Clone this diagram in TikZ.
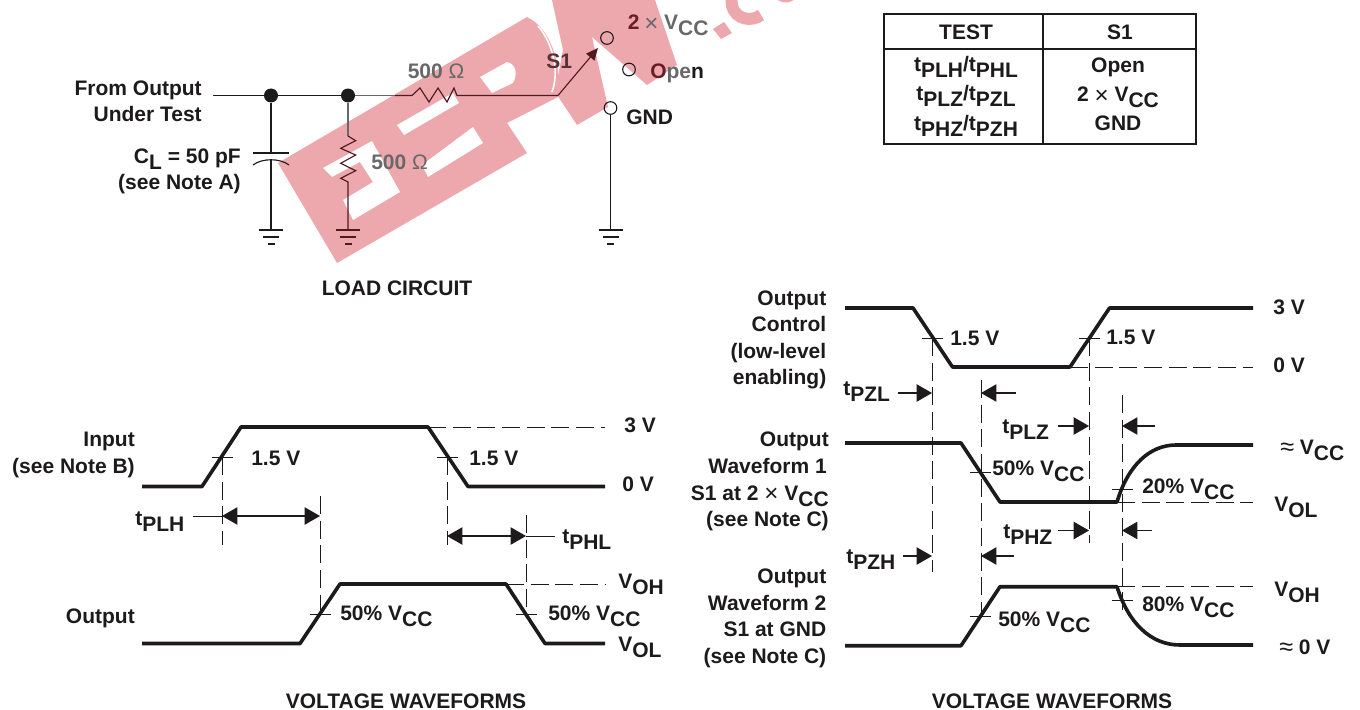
\documentclass[tikz,border=0pt]{standalone}
\usepackage{fontspec}
\setmainfont{Liberation Sans}
\usetikzlibrary{arrows.meta}
\definecolor{ink}{HTML}{1C1A1B}
\definecolor{wmark}{HTML}{EDA8AD}
\definecolor{maroon}{HTML}{4E1A20}
\definecolor{dmar}{HTML}{6B1D26}
\definecolor{grayt}{HTML}{686868}
\newcommand{\sbs}[1]{\raisebox{-4.5pt}{#1}}
\newcommand{\lite}[1]{{\mdseries #1}}
\newcommand{\tms}{{\mdseries\raisebox{-1pt}{\scalebox{1.15}{×}}}}
\newcommand{\apx}{{\mdseries\raisebox{-1pt}{\scalebox{1.2}{≈}}}}
\newcommand{\vcc}{V\sbs{CC}}
\newcommand{\tsub}[1]{t\sbs{#1}}
\tikzset{
  lab/.style={font=\fontsize{15.75}{18}\selectfont\bfseries,text=ink,inner sep=0pt,anchor=base west},
  labr/.style={lab,anchor=base east},
  labc/.style={lab,anchor=base},
  wire/.style={draw=ink,line width=.85pt},
  wave/.style={draw=ink,line width=2.7pt,line join=round},
  thinw/.style={draw=ink,line width=.75pt},
  dash line/.style={draw=ink,line width=.7pt,dash pattern=on 13.5pt off 5pt},
  tickm/.style={draw=ink,line width=.7pt},
  head/.style={draw=ink,line width=.8pt,-{Triangle[length=11.5pt,width=13pt,fill=ink]}},
  heads/.style={draw=ink,line width=.8pt,{Triangle[length=11.5pt,width=13pt,fill=ink]}-{Triangle[length=11.5pt,width=13pt,fill=ink]}},
  dot/.style={circle,fill=ink,inner sep=0pt,minimum size=10.5pt},
  term/.style={circle,draw=ink,fill=none,line width=.8pt,inner sep=0pt,minimum size=9.5pt},
  wm/.style={fill=wmark,draw=none},
  wh/.style={fill=white,draw=none},
  tb/.style={draw=ink,line width=1.4pt}
}
\begin{document}
\begin{tikzpicture}[x=.75pt,y=-.75pt]
\useasboundingbox (0,0) rectangle (1360,710);
% watermark
\begin{scope}
\clip (0,0) rectangle (1360,710);
\fill[wm] (278,163) -- (527,17) .. controls (550,28) and (562,62) .. (558,97) -- (507,123) -- (527,153) -- (337,263) -- cycle;
\fill[wh] (397,125) -- (453,93) -- (459,103) -- (404,135) -- cycle;
\fill[wh] (422,165) -- (473,127) -- (483,143) -- (428,177) -- cycle;
\fill[wh] (480,77) -- (507,62) .. controls (516,64) and (518,74) .. (513,83) -- (492,93) -- cycle;
\fill[wh] (323,168) -- (372,141) -- (400,192) -- (353,220) -- (343,200) -- (373,182) -- (360,162) -- (332,177) -- cycle;
\fill[wm] (552,0) -- (655,0) -- (677,65) -- (647,85) -- (592,37) -- (608,107) -- (577,125) -- (555,92) -- (563,50) -- cycle;
\draw[white,line width=1.2pt] (538,26) .. controls (552,42) and (560,70) .. (552,92);
\fill[wm] (713,29) -- (724,22) -- (732,33) -- (721,39) -- cycle;
\draw[wmark,line width=9pt] (761,15) .. controls (752,22) and (736,20) .. (732,6) -- (731,-6);
\fill[wmark] (775,-2) .. controls (782,4) and (790,4) .. (796,-2) -- cycle;
\end{scope}
% load circuit coordinates
\coordinate (in) at (213,95.5);
\node[dot] (d1) at (271,95.5) {};
\node[dot] (d2) at (348,95.5) {};
\coordinate (r1a) at (412,95.5);
\coordinate (r1b) at (457,95.5);
\coordinate (knee) at (558,95.5);
\coordinate (tip) at (598,48);
\node[term] (t1) at (607,38) {};
\node[term] (t2) at (629,69.5) {};
\node[term] (t3) at (610.5,108) {};
\coordinate (capT) at (271,153);
\coordinate (capB) at (271,159);
\coordinate (g1) at (271,230);
\coordinate (g2) at (348,230);
\coordinate (g3) at (610.5,230);
\coordinate (r2a) at (348,136);
\coordinate (r2b) at (348,182);
\draw[wire] (in) -- (d1) -- (d2);
\draw[wire,draw=grayt] (d2) -- (395,95.5);
\draw[wire,draw=maroon] (395,95.5) -- (r1a) -- ++(8,-7.5) -- ++(9,14) -- ++(9,-14) -- ++(9,14) -- ++(7,-14) -- (r1b) -- (knee);
\draw[line width=.85pt,draw=maroon,-{Triangle[length=9pt,width=8pt,fill=maroon]}] (knee) -- (tip);
\draw[wire] (d1) -- (capT);
\draw[wire] (capB) -- (g1);
\draw[wire] (253,153) -- (289,153);
\draw[wire] (253,165) .. controls (262,158) and (280,158) .. (289,165);
\draw[wire,draw=grayt] (d2) -- (r2a);
\draw[wire,draw=maroon] (r2a) -- (355.7,140.7) -- (340.7,148.3) -- (355.7,155) -- (340.7,163.3) -- (355.7,170.7) -- (340.7,178.3) -- (r2b) -- (g2);
\draw[wire] (t3) -- (g3);
\foreach \g/\c in {g1/ink,g2/maroon,g3/ink}{
  \draw[wire,draw=\c] (\g) ++(-12,0) -- ++(24,0);
  \draw[wire,draw=\c] (\g) ++(-8,7) -- ++(16,0);
  \draw[wire,draw=\c] (\g) ++(-3.5,14) -- ++(7,0);
}
\node[labr] (l1) at (202,95) {From Output};
\node[labr] (l2) at (202,121.7) {Under Test};
\node[labr] (l3) at (241,163) {C\sbs{L} = 50 pF};
\node[labr] (l4) at (241,189) {(see Note A)};
\node[lab,text=grayt] (l5) at (407.5,78.7) {500 \lite{Ω}};
\node[lab,text=grayt] (l6) at (371,169) {500 \lite{Ω}};
\node[lab,text=maroon!70!grayt] (l7) at (546,68.3) {S1};
\node[lab,text=dmar] (l8) at (627.5,30) {2};
\node[lab,text=grayt] (l9) at (644,30) {\tms{} \vcc};
\node[lab,text=grayt] (l10) at (650,79) {\textcolor{dmar}{O}pe\textcolor{ink}{n}};
\node[lab] (l11) at (626,124) {GND};
\node[labc] (l12) at (397,295) {LOAD CIRCUIT};
% table
\coordinate (tA) at (884,14);
\coordinate (tB) at (1196,144);
\coordinate (tC) at (1043,14);
\coordinate (tD) at (1043,144);
\coordinate (tE) at (884,49);
\coordinate (tF) at (1196,49);
\draw[tb] (tA) rectangle (tB);
\draw[tb] (tC) -- (tD);
\draw[tb,line width=1.7pt] (tE) -- (tF);
\node[labc] (h1) at (966,39.5) {TEST};
\node[labc] (h2) at (1120,39.5) {S1};
\node[labc] (r1) at (966,72) {\tsub{PLH}/\tsub{PHL}};
\node[labc] (r2) at (966,101) {\tsub{PLZ}/\tsub{PZL}};
\node[labc] (r3) at (966,130) {\tsub{PHZ}/\tsub{PZH}};
\node[labc] (s1) at (1118,73) {Open};
\node[labc] (s2) at (1118,102) {2 \tms{} \vcc};
\node[labc] (s3) at (1118,131) {GND};
% left waveforms
\draw[wave] (142,486.5) -- (202,486.5) -- (241,427) -- (428,427) -- (468,486.5) -- (605,486.5);
\draw[dash line] (428,427) -- (605,427);
\draw[wave] (142,643.5) -- (300,643.5) -- (340,584) -- (506,584) -- (545,643.5) -- (605,643.5);
\draw[dash line] (506,584) -- (605,584);
\foreach \x/\y in {222/457,447/457,320/614,526/614}{\draw[tickm] (\x-10.5,\y) -- (\x+10.5,\y);}
\draw[dash line] (222,457) -- (222,545);
\draw[dash line] (447,457) -- (447,545);
\draw[dash line] (320,496) -- (320,614);
\draw[dash line] (526,515) -- (526,614);
\draw[thinw] (193,516) -- (222,516);
\draw[heads] (222,516) -- (320,516);
\draw[heads] (447,536) -- (526,536);
\draw[thinw] (526,536) -- (555,536);
\node[lab] (a1) at (624,432) {3 V};
\node[lab] (a2) at (622,491.7) {0 V};
\node[labr] (a3) at (135,446.7) {Input};
\node[labr] (a4) at (135,473) {(see Note B)};
\node[lab] (a5) at (251,465.7) {1.5 V};
\node[lab] (a6) at (469,465.7) {1.5 V};
\node[lab] (a7) at (135,525) {\tsub{PLH}};
\node[lab] (a8) at (562,543) {\tsub{PHL}};
\node[lab] (a9) at (618,588) {V\sbs{OH}};
\node[lab] (a10) at (618,651) {V\sbs{OL}};
\node[lab] (a11) at (340,620.7) {50\% \vcc};
\node[lab] (a12) at (548,620) {50\% \vcc};
\node[labr] (a13) at (135,623) {Output};
\node[labc] (a14) at (406,708) {VOLTAGE WAVEFORMS};
% right waveforms
\draw[wave] (845,308) -- (913,308) -- (952.5,367) -- (1070,367) -- (1109.5,308) -- (1253,308);
\draw[dash line] (1070,367) -- (1253,367);
\draw[wave] (845,443) -- (961,443) -- (1000,502) -- (1117,502) .. controls (1128,465) and (1150,445) .. (1176,445) -- (1253,445);
\draw[dash line] (1117,502) -- (1253,502);
\draw[wave] (845,645.7) -- (961,645.7) -- (1000,586.7) -- (1117,586.7) .. controls (1128,622) and (1150,645) .. (1180,645) -- (1253,645);
\draw[dash line] (1117,586.7) -- (1253,586.7);
\foreach \x/\y in {932/338,1089/338,980/472.7,1122/489,980/616.7,1122/600}{\draw[tickm] (\x-10.5,\y) -- (\x+10.5,\y);}
\draw[dash line] (932,338) -- (932,572);
\draw[dash line] (1089,338) -- (1089,543);
\draw[dash line] (981,380) -- (981,617);
\draw[dash line] (1122,395) -- (1122,610);
\draw[head] (898,393) -- (932,393);
\draw[head] (1016,393) -- (981,393);
\draw[head] (1058,426) -- (1089,426);
\draw[head] (1155,426) -- (1122,426);
\draw[head] (1058,530.5) -- (1089,530.5);
\draw[head] (1152,530.5) -- (1122,530.5);
\draw[head] (903,556) -- (932,556);
\draw[head] (1014,556) -- (981,556);
\node[labr] (b1) at (826.5,305) {Output};
\node[labr] (b2) at (826.5,331.7) {Control};
\node[labr] (b3) at (826.5,358) {(low-level};
\node[labr] (b4) at (826.5,384) {enabling)};
\node[labr] (b5) at (829,446.7) {Output};
\node[labr] (b6) at (827,473) {Waveform 1};
\node[labr] (b7) at (829,500) {S1 at 2 \tms{} \vcc};
\node[labr] (b8) at (829,526) {(see Note C)};
\node[labr] (b9) at (826.5,583) {Output};
\node[labr] (b10) at (826.5,610) {Waveform 2};
\node[labr] (b11) at (826.5,636.7) {S1 at GND};
\node[labr] (b12) at (826.5,663) {(see Note C)};
\node[lab] (b13) at (843,395) {\tsub{PZL}};
\node[lab] (b14) at (1002,433) {\tsub{PLZ}};
\node[lab] (b15) at (1003,538) {\tsub{PHZ}};
\node[lab] (b16) at (846,563) {\tsub{PZH}};
\node[lab] (b17) at (950,345.7) {1.5 V};
\node[lab] (b18) at (1106,344) {1.5 V};
\node[lab] (b19) at (1273,314) {3 V};
\node[lab] (b20) at (1273,372.7) {0 V};
\node[lab] (b21) at (992,475) {50\% \vcc};
\node[lab] (b22) at (1142,493) {20\% \vcc};
\node[lab] (b23) at (1142,611.7) {80\% \vcc};
\node[lab] (b24) at (998,626.7) {50\% \vcc};
\node[lab] (b25) at (1280,454) {\apx{} \vcc};
\node[lab] (b26) at (1274,511.7) {V\sbs{OL}};
\node[lab] (b27) at (1274,596.7) {V\sbs{OH}};
\node[lab] (b28) at (1279,654) {\apx{} 0 V};
\node[labc] (b29) at (1052,708) {VOLTAGE WAVEFORMS};
\end{tikzpicture}
\end{document}
